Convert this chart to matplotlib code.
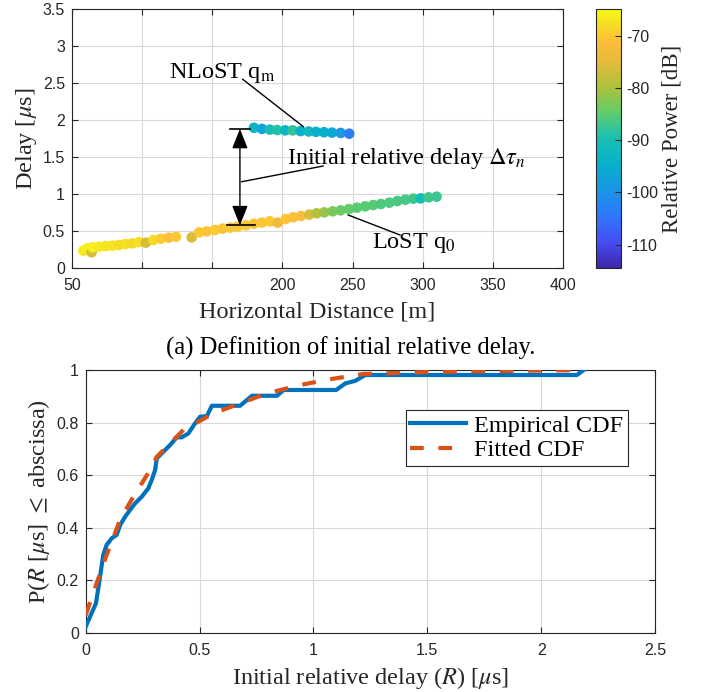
import numpy as np
import matplotlib
matplotlib.use('Agg')
import matplotlib.pyplot as plt
from matplotlib.colors import LinearSegmentedColormap

plt.rcParams['font.family'] = 'serif'
plt.rcParams['font.serif'] = ['Liberation Serif', 'DejaVu Serif']
plt.rcParams['mathtext.fontset'] = 'stix'

# --- (a) LoST / NLoST trajectories ---
lost_dist = [58.1, 60.9, 64.0, 64.7, 69.5, 74.0, 78.7, 83.5, 88.3, 93.0, 97.8, 102.7,
             108.0, 113.4, 118.9, 124.1, 135.3, 140.7, 146.0, 151.9, 157.4, 162.8, 168.1,
             174.0, 179.7, 185.4, 191.1, 196.6, 202.3, 207.7, 213.2, 219.1, 224.4, 229.8,
             235.8, 241.5, 247.4, 253.1, 259.0, 264.7, 270.2, 276.2, 281.9, 287.6, 293.3,
             298.5, 304.2, 309.9]
lost_delay = [0.234, 0.266, 0.212, 0.280, 0.288, 0.297, 0.302, 0.311, 0.324, 0.333, 0.351,
              0.342, 0.378, 0.396, 0.410, 0.423, 0.414, 0.482, 0.495, 0.514, 0.532, 0.545,
              0.559, 0.577, 0.599, 0.613, 0.631, 0.613, 0.662, 0.685, 0.703, 0.721, 0.739,
              0.752, 0.766, 0.779, 0.797, 0.815, 0.833, 0.851, 0.865, 0.883, 0.905, 0.923,
              0.937, 0.941, 0.955, 0.964]
lost_power = [-66.5, -66, -76, -66, -66.5, -67, -67, -68, -67.5, -68, -67.5, -76, -68, -69.5,
              -71, -70, -76, -70, -70.5, -70, -70.5, -70, -70, -70, -70.5, -70.5, -70, -73,
              -70.5, -71, -71.5, -76, -79, -81, -83, -84, -84.5, -85, -85.5, -85.5, -86,
              -86, -86.5, -86.5, -87, -90.5, -87, -87.5]

nlost_dist = [179.7, 185.4, 191.1, 196.3, 202.0, 207.3, 213.0, 218.7, 223.9, 229.6, 235.3,
              241.5, 247.6]
nlost_delay = [1.895, 1.88, 1.87, 1.865, 1.86, 1.86, 1.85, 1.845, 1.84, 1.835, 1.83, 1.825,
               1.815]
nlost_power = [-93, -97, -90, -89, -93, -88, -94, -92, -94, -95, -96, -99, -104]

xticks_top = [50, 100, 150, 200, 250, 300, 350, 400]
xticklabels_top = ['50', '', '', '200', '250', '300', '350', '400']
yticks_top = [0, 0.5, 1, 1.5, 2, 2.5, 3, 3.5]
cbar_ticks = [-110, -100, -90, -80, -70]

# --- (b) CDF ---
emp_x = [0.0, 0.045, 0.063, 0.077, 0.092, 0.114, 0.136, 0.151, 0.173, 0.195, 0.217, 0.246,
         0.275, 0.29, 0.305, 0.312, 0.341, 0.371, 0.40, 0.422, 0.451, 0.48, 0.502, 0.532,
         0.554, 0.678, 0.73, 0.84, 0.869, 1.10, 1.14, 1.184, 1.228, 2.157, 2.187]
emp_y = [0.024, 0.113, 0.214, 0.297, 0.335, 0.36, 0.373, 0.41, 0.442, 0.468, 0.493, 0.518,
         0.55, 0.582, 0.62, 0.664, 0.689, 0.715, 0.744, 0.744, 0.759, 0.797, 0.822, 0.825,
         0.864, 0.864, 0.902, 0.902, 0.924, 0.924, 0.949, 0.959, 0.981, 0.981, 1.0]
fit_x = [0.0, 0.048, 0.092, 0.151, 0.209, 0.283, 0.312, 0.429, 0.561, 0.678, 0.796, 0.942,
         1.074, 1.22, 1.5, 1.8, 2.1, 2.19]
fit_y = [0.068, 0.189, 0.297, 0.43, 0.518, 0.62, 0.67, 0.772, 0.835, 0.873, 0.911, 0.943,
         0.965, 0.985, 0.992, 0.996, 0.999, 1.0]

# parula-like colormap
parula_pts = [(0.00, (0.243, 0.150, 0.660)), (0.10, (0.277, 0.300, 0.960)),
              (0.20, (0.180, 0.470, 0.990)), (0.30, (0.100, 0.590, 0.890)),
              (0.40, (0.030, 0.690, 0.800)), (0.50, (0.100, 0.750, 0.700)),
              (0.60, (0.380, 0.800, 0.420)), (0.70, (0.680, 0.760, 0.230)),
              (0.80, (0.900, 0.730, 0.230)), (0.87, (0.990, 0.740, 0.230)),
              (0.95, (0.960, 0.880, 0.130)), (1.00, (0.977, 0.984, 0.081))]
parula = LinearSegmentedColormap.from_list('parula', parula_pts)

W, H = 702, 692
fig = plt.figure(figsize=(W / 100, H / 100), dpi=100)
gray = (0.15, 0.15, 0.15)
LAB = 17.5


def style_axes(ax):
    ax.grid(True, color=(0.85, 0.85, 0.85), lw=0.8)
    ax.set_axisbelow(True)
    ax.tick_params(direction='in', top=True, right=True, colors=gray, labelsize=11.5,
                   length=4, width=0.8)
    ax.tick_params(axis='x', pad=7)
    ax.tick_params(axis='y', pad=5)
    for s in ax.spines.values():
        s.set_color(gray)
        s.set_linewidth(0.8)
    for lab in ax.get_xticklabels() + ax.get_yticklabels():
        lab.set_fontfamily('Liberation Sans')


ax1 = fig.add_axes([72 / W, 1 - 268 / H, (563 - 72) / W, (268 - 9) / H])
vmin, vmax = -114.5, -64.8
ax1.scatter(lost_dist, lost_delay, c=lost_power, cmap=parula, vmin=vmin, vmax=vmax,
            s=58, edgecolors='none', zorder=3)
sc = ax1.scatter(nlost_dist, nlost_delay, c=nlost_power, cmap=parula, vmin=vmin, vmax=vmax,
                 s=58, edgecolors='none', zorder=3)
ax1.set_xlim(50, 400)
ax1.set_ylim(0, 3.5)
ax1.set_xticks(xticks_top)
ax1.set_xticklabels(xticklabels_top)
ax1.set_yticks(yticks_top)
ax1.set_yticklabels(['0', '0.5', '1', '1.5', '2', '2.5', '3', '3.5'])
style_axes(ax1)
ax1.set_xlabel('Horizontal Distance [m]', fontsize=LAB, color=gray, labelpad=6)
ax1.set_ylabel(r'Delay [$\mu$s]', fontsize=LAB, color=gray, labelpad=3)

# double arrow and its end bars
ax1.annotate('', xy=(169.7, 0.577), xytext=(169.7, 1.88),
             arrowprops=dict(arrowstyle='<|-|>,head_length=0.45,head_width=0.18',
                             color='k', lw=1, mutation_scale=27, shrinkA=0, shrinkB=0),
             zorder=4)
ax1.plot([162.6, 176.9], [1.88, 1.88], color='k', lw=1.2, zorder=4)
ax1.plot([160.5, 180.4], [0.577, 0.577], color='k', lw=1.2, zorder=4)

ax1.plot([171.7, 214.9], [2.55, 1.91], color='k', lw=1, zorder=4)
ax1.text(157, 2.63, r'NLoST q$_{\mathrm{m}}$', fontsize=LAB, ha='center', va='center')
ax1.plot([171, 229], [1.166, 1.378], color='k', lw=1, zorder=4)
ax1.text(203, 1.48, r'Initial relative delay $\Delta\tau_n$', fontsize=LAB, ha='left',
         va='center')
ax1.plot([246.9, 283.8], [0.716, 0.446], color='k', lw=1, zorder=4)
ax1.text(294, 0.34, r'LoST q$_0$', fontsize=LAB, ha='center', va='center')

cax = fig.add_axes([596 / W, 1 - 268 / H, 25 / W, (268 - 9) / H])
cb = fig.colorbar(sc, cax=cax)
cb.set_ticks(cbar_ticks)
cb.set_ticklabels([str(t) for t in cbar_ticks])
cax.tick_params(direction='in', colors=gray, labelsize=11.5, length=4, width=0.8, pad=4)
for lab in cax.get_yticklabels():
    lab.set_fontfamily('Liberation Sans')
cb.outline.set_edgecolor(gray)
cb.outline.set_linewidth(0.8)
cb.set_label('Relative Power [dB]', fontsize=16.5, color=gray, labelpad=2)

fig.text(351 / W, 1 - 348 / H, '(a) Definition of initial relative delay.', fontsize=17.7,
         ha='center', va='center', color='k')

ax2 = fig.add_axes([85.7 / W, 1 - 633 / H, (655 - 85.7) / W, (633 - 370) / H])
ax2.plot(emp_x, emp_y, color='#0072BD', lw=3, label='Empirical CDF', zorder=3)
ax2.plot(fit_x, fit_y, color='#D95319', lw=3, ls=(0, (3.3, 3.5)), dash_capstyle='butt',
         label='Fitted CDF', zorder=4)
ax2.set_xlim(0, 2.5)
ax2.set_ylim(0, 1)
ax2.set_xticks([0, 0.5, 1, 1.5, 2, 2.5])
ax2.set_xticklabels(['0', '0.5', '1', '1.5', '2', '2.5'])
ax2.set_yticks([0, 0.2, 0.4, 0.6, 0.8, 1])
ax2.set_yticklabels(['0', '0.2', '0.4', '0.6', '0.8', '1'])
style_axes(ax2)
ax2.set_xlabel(r'Initial relative delay ($R$) [$\mu$s]', fontsize=LAB, color=gray,
               labelpad=5)
ax2.set_ylabel(r'P($R$ [$\mu$s] $\leq$ abscissa)', fontsize=LAB, color=gray, labelpad=3)
leg = ax2.legend(loc='upper right', bbox_to_anchor=(0.952, 0.848), fontsize=LAB,
                 fancybox=False, framealpha=1, edgecolor=gray, handlelength=2.3,
                 borderpad=0.2, labelspacing=0.1, handletextpad=0.3, borderaxespad=0)
leg.get_frame().set_linewidth(0.8)

fig.savefig('out.png', dpi=100)
